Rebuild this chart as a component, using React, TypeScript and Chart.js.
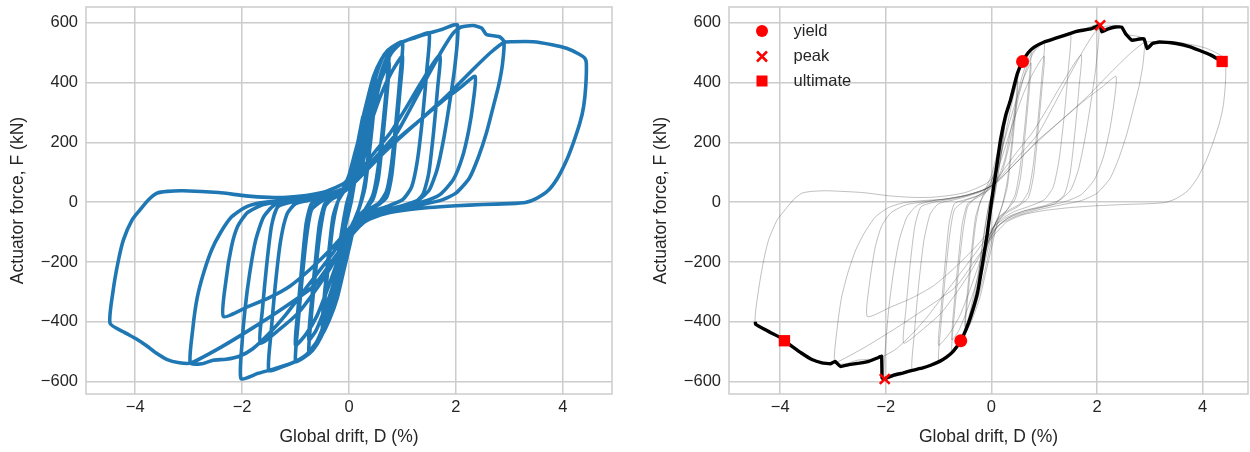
import { useEffect, useRef } from 'react';
import { Chart, registerables } from 'chart.js';

Chart.register(...registerables);

const FONT = '"Liberation Sans", Arial, Helvetica, sans-serif';
const TEXT = '#262626';
const GRID = '#cccccc';
const BLUE = '#1f77b4';
const RED = '#ff0000';

const xTicks = [-4, -2, 0, 2, 4];
const yTicks = [-600, -400, -200, 0, 200, 400, 600];
const xLabel = 'Global drift, D (%)';
const yLabel = 'Actuator force, F (kN)';
const legendLabels = ['yield', 'peak', 'ultimate'];

type P = [number, number];

// hysteresis cycles: [drift %, force kN]
const cycle01: P[] = [[0, 0], [0.1, 115], [0.2, 230], [0.26, 285], [0.22, 210], [0.13, 100], [0.05, 15], [-0.05, -60], [-0.15, -170], [-0.25, -275], [-0.21, -200], [-0.13, -100], [-0.05, -10]];
const cycle02: P[] = [[0.05, 55], [0.15, 165], [0.25, 270], [0.21, 190], [0.12, 85], [0.04, 0], [-0.06, -75], [-0.16, -180], [-0.25, -270], [-0.21, -190], [-0.12, -80], [-0.04, -5]];
const cycle03: P[] = [[0.05, 50], [0.15, 150], [0.27, 270], [0.38, 360], [0.5, 430], [0.46, 330], [0.38, 190], [0.3, 70], [0.22, 0], [0.12, -60], [0.02, -140], [-0.1, -230], [-0.22, -320], [-0.36, -390], [-0.5, -440], [-0.46, -340], [-0.38, -200], [-0.3, -75], [-0.22, -5]];
const cycle04: P[] = [[-0.12, 40], [0.0, 90], [0.12, 170], [0.26, 260], [0.38, 340], [0.5, 405], [0.46, 300], [0.38, 165], [0.3, 50], [0.2, -15], [0.08, -70], [-0.04, -140], [-0.18, -240], [-0.34, -340], [-0.5, -415], [-0.46, -310], [-0.38, -170], [-0.3, -50], [-0.2, 5]];
const cycle05: P[] = [[-0.1, 35], [0.0, 70], [0.1, 140], [0.22, 250], [0.34, 340], [0.46, 420], [0.6, 475], [0.75, 510], [0.71, 400], [0.63, 250], [0.54, 110], [0.45, 25], [0.3, -25], [0.15, -60], [0.02, -120], [-0.1, -210], [-0.22, -300], [-0.36, -380], [-0.5, -440], [-0.62, -478], [-0.75, -500], [-0.71, -390], [-0.63, -240], [-0.54, -100], [-0.45, -15]];
const cycle06: P[] = [[-0.3, 15], [-0.15, 35], [0.0, 70], [0.14, 140], [0.3, 240], [0.45, 330], [0.6, 410], [0.75, 465], [0.71, 360], [0.63, 210], [0.55, 80], [0.45, 10], [0.3, -25], [0.12, -55], [-0.02, -110], [-0.16, -190], [-0.32, -290], [-0.48, -370], [-0.62, -430], [-0.75, -460], [-0.71, -350], [-0.63, -200], [-0.55, -70], [-0.45, -5]];
const cycle07: P[] = [[-0.3, 12], [-0.12, 30], [0.02, 60], [0.15, 130], [0.28, 240], [0.4, 340], [0.52, 430], [0.65, 490], [0.8, 518], [1.0, 535], [0.96, 430], [0.88, 270], [0.79, 120], [0.7, 35], [0.55, -5], [0.35, -25], [0.15, -50], [0.0, -100], [-0.12, -180], [-0.25, -290], [-0.38, -380], [-0.52, -450], [-0.68, -495], [-0.85, -520], [-1.0, -532], [-0.96, -420], [-0.88, -260], [-0.79, -110], [-0.7, -25]];
const cycle08: P[] = [[-0.5, 5], [-0.3, 18], [-0.1, 38], [0.05, 75], [0.2, 150], [0.4, 260], [0.6, 360], [0.8, 435], [1.0, 488], [0.96, 385], [0.88, 230], [0.8, 90], [0.7, 15], [0.5, -15], [0.3, -35], [0.1, -65], [-0.05, -115], [-0.2, -190], [-0.4, -290], [-0.6, -380], [-0.8, -440], [-1.0, -478], [-0.96, -370], [-0.88, -210], [-0.8, -70], [-0.7, -5]];
const cycle09: P[] = [[-0.5, 8], [-0.25, 22], [-0.05, 40], [0.1, 70], [0.25, 140], [0.4, 270], [0.55, 400], [0.7, 480], [0.9, 525], [1.1, 542], [1.3, 555], [1.5, 565], [1.46, 450], [1.38, 290], [1.28, 140], [1.17, 50], [1.0, 8], [0.7, -15], [0.45, -30], [0.2, -55], [0.0, -95], [-0.15, -160], [-0.3, -280], [-0.45, -400], [-0.6, -465], [-0.8, -510], [-1.0, -532], [-1.25, -550], [-1.5, -562], [-1.46, -440], [-1.38, -280], [-1.28, -130], [-1.16, -40], [-1.0, -5]];
const cycle10: P[] = [[-0.7, 8], [-0.45, 20], [-0.2, 35], [0.0, 55], [0.2, 100], [0.45, 160], [0.77, 231], [1.05, 310], [1.35, 400], [1.7, 492], [1.66, 385], [1.58, 230], [1.49, 95], [1.38, 25], [1.2, -5], [0.9, -20], [0.6, -35], [0.3, -55], [0.1, -85], [-0.1, -140], [-0.35, -220], [-0.65, -300], [-0.95, -370], [-1.3, -425], [-1.66, -471], [-1.62, -360], [-1.54, -210], [-1.45, -80], [-1.33, -15]];
const cycle11: P[] = [[-1.0, 3], [-0.7, 12], [-0.4, 25], [-0.15, 40], [0.05, 60], [0.2, 100], [0.35, 200], [0.5, 340], [0.65, 440], [0.8, 500], [1.0, 535], [1.25, 550], [1.5, 565], [1.75, 578], [2.03, 592], [1.98, 453], [1.89, 341], [1.78, 220], [1.65, 110], [1.5, 40], [1.3, 8], [1.0, -12], [0.7, -25], [0.4, -45], [0.15, -75], [-0.05, -130], [-0.2, -220], [-0.35, -340], [-0.5, -430], [-0.65, -485], [-0.85, -518], [-1.1, -540], [-1.4, -557], [-1.7, -572], [-2.02, -590], [-2.0, -470], [-1.94, -350], [-1.86, -240], [-1.75, -130], [-1.6, -50], [-1.4, -10]];
const cycle12: P[] = [[-1.1, 5], [-0.8, 12], [-0.5, 22], [-0.2, 38], [0.05, 60], [0.35, 110], [0.89, 208], [1.3, 270], [1.8, 345], [2.1, 385], [2.36, 420], [2.32, 330], [2.24, 240], [2.12, 150], [1.95, 75], [1.7, 25], [1.4, 2], [1.0, -15], [0.6, -30], [0.3, -50], [0.05, -80], [-0.3, -150], [-0.7, -220], [-1.1, -280], [-1.5, -320], [-1.9, -350], [-2.35, -382], [-2.3, -260], [-2.2, -150], [-2.08, -80], [-1.9, -35], [-1.6, -8], [-1.2, 3]];
const cycle13: P[] = [[-0.8, 12], [-0.5, 22], [-0.2, 38], [0.05, 60], [0.3, 110], [0.6, 170], [0.89, 230], [1.2, 330], [1.5, 430], [1.75, 510], [1.95, 565], [2.1, 585], [2.32, 590], [2.48, 582], [2.57, 560], [2.7, 556], [2.82, 552], [2.9, 536], [2.87, 460], [2.8, 390], [2.7, 320], [2.57, 231], [2.42, 150], [2.25, 80], [2.0, 30], [1.7, 5], [1.3, -10], [0.9, -25], [0.5, -45], [0.2, -70], [-0.05, -110], [-0.3, -170], [-0.6, -240], [-0.9, -310], [-1.2, -380], [-1.5, -440], [-1.8, -490], [-2.05, -515], [-2.3, -525], [-2.54, -528], [-2.75, -540], [-2.97, -538], [-2.92, -420], [-2.84, -320], [-2.72, -237], [-2.57, -160], [-2.41, -104], [-2.2, -50], [-1.95, -18], [-1.66, -2], [-1.3, 5]];
const cycle14: P[] = [[-0.9, 10], [-0.5, 22], [-0.2, 38], [0.1, 65], [0.4, 120], [0.8, 190], [1.3, 270], [1.8, 350], [2.3, 440], [2.65, 500], [2.9, 534], [3.05, 536], [3.44, 536], [3.8, 526], [4.07, 514], [4.3, 495], [4.41, 481], [4.44, 464], [4.43, 390], [4.39, 320], [4.32, 265], [4.2, 200], [4.07, 140], [3.9, 80], [3.72, 38], [3.5, 12], [3.3, -1], [3.0, -5], [2.5, -8], [2.0, -12], [1.5, -18], [1.0, -28], [0.6, -42], [0.3, -65], [0.05, -110], [-0.25, -180], [-0.67, -282], [-1.2, -350], [-1.8, -420], [-2.4, -485], [-2.97, -538], [-3.2, -536], [-3.4, -526], [-3.6, -505], [-3.8, -478], [-4.0, -455], [-4.2, -435], [-4.47, -405], [-4.41, -293], [-4.32, -200], [-4.22, -126], [-4.06, -60], [-3.91, -26], [-3.75, 8], [-3.59, 30], [-3.4, 36], [-3.1, 38], [-2.44, 32], [-1.93, 21], [-1.5, 16], [-1.16, 16], [-0.8, 22], [-0.5, 32], [-0.3, 45], [-0.1, 62], [0.05, 85]];

// backbone (envelope) curve
const envelope: P[] = [[-4.47, -400], [-4.47, -407], [-4.3, -425], [-4.17, -437], [-4.0, -452], [-3.92, -463], [-3.75, -485], [-3.6, -504], [-3.4, -526], [-3.21, -537], [-3.05, -540], [-2.96, -532], [-2.86, -549], [-2.7, -543], [-2.5, -538], [-2.32, -532], [-2.15, -520], [-2.08, -515], [-2.07, -588], [-2.02, -590], [-1.85, -578], [-1.68, -571], [-1.5, -562], [-1.3, -554], [-1.15, -545], [-0.98, -532], [-0.85, -518], [-0.72, -498], [-0.58, -463], [-0.48, -425], [-0.4, -387], [-0.27, -308], [-0.18, -219], [-0.08, -107], [0, 0], [0.08, 95], [0.17, 206], [0.27, 290], [0.36, 340], [0.49, 429], [0.59, 470], [0.7, 500], [0.81, 518], [1.0, 535], [1.19, 546], [1.4, 558], [1.58, 569], [1.9, 580], [2.06, 591], [2.09, 569], [2.2, 578], [2.35, 585], [2.47, 585], [2.54, 563], [2.66, 541], [2.8, 545], [2.89, 546], [2.95, 513], [3.05, 530], [3.18, 535], [3.5, 530], [3.75, 520], [3.94, 507], [4.15, 492], [4.37, 470], [4.42, 466]];

const yieldPts: P[] = [[0.59, 470], [-0.58, -463]];
const peakPts: P[] = [[2.06, 591], [-2.02, -591]];
const ultimatePts: P[] = [[4.37, 470], [-3.92, -463]];

const hysteresis: P[] = [
  ...cycle01, ...cycle02, ...cycle03, ...cycle04, ...cycle05, ...cycle06, ...cycle07,
  ...cycle08, ...cycle09, ...cycle10, ...cycle11, ...cycle12, ...cycle13, ...cycle14,
];

const toXY = (pts: P[]) => pts.map(([x, y]) => ({ x, y }));
const fmt = (v: number | string) => String(v).replace('-', '\u2212');

const framePlugin = {
  id: 'frame',
  beforeDatasetsDraw(chart: any) {
    const { ctx, chartArea: a } = chart;
    ctx.save();
    ctx.strokeStyle = GRID;
    ctx.lineWidth = 1.5;
    ctx.strokeRect(a.left, a.top, a.right - a.left, a.bottom - a.top);
    ctx.restore();
  },
};

const legendPlugin = {
  id: 'innerLegend',
  afterDraw(chart: any) {
    const { ctx, chartArea: a } = chart;
    const x0 = a.left + 33;
    const ys = [24, 49.5, 74].map((d) => a.top + d);
    ctx.save();
    ctx.fillStyle = RED;
    ctx.strokeStyle = RED;
    ctx.beginPath();
    ctx.arc(x0, ys[0], 6, 0, Math.PI * 2);
    ctx.fill();
    ctx.lineWidth = 2.5;
    ctx.beginPath();
    ctx.moveTo(x0 - 5, ys[1] - 5);
    ctx.lineTo(x0 + 5, ys[1] + 5);
    ctx.moveTo(x0 + 5, ys[1] - 5);
    ctx.lineTo(x0 - 5, ys[1] + 5);
    ctx.stroke();
    ctx.fillRect(x0 - 5.5, ys[2] - 5.5, 11, 11);
    ctx.fillStyle = TEXT;
    ctx.font = `16.5px ${FONT}`;
    ctx.textBaseline = 'middle';
    ctx.textAlign = 'left';
    legendLabels.forEach((t, i) => ctx.fillText(t, a.left + 64.5, ys[i]));
    ctx.restore();
  },
};

function makeScales(xmin: number, xmax: number) {
  return {
    x: {
      type: 'linear',
      min: xmin,
      max: xmax,
      grid: { color: GRID, lineWidth: 1.5, drawTicks: false },
      border: { display: false },
      ticks: { color: TEXT, font: { family: FONT, size: 16.5 }, padding: 4, maxRotation: 0, autoSkip: false, callback: (v: number) => fmt(v) },
      title: { display: true, text: xLabel, color: TEXT, font: { family: FONT, size: 17.5 }, padding: { top: 0, bottom: 4.5 } },
      afterBuildTicks: (s: any) => { s.ticks = xTicks.map((value) => ({ value })); },
      afterFit: (s: any) => { s.height = 58; s.paddingLeft = 0; s.paddingRight = 0; },
    },
    y: {
      type: 'linear',
      min: -641,
      max: 652,
      grid: { color: GRID, lineWidth: 1.5, drawTicks: false },
      border: { display: false },
      ticks: { color: TEXT, font: { family: FONT, size: 16.5 }, padding: 8, autoSkip: false, callback: (v: number) => fmt(v) },
      title: { display: true, text: yLabel, color: TEXT, font: { family: FONT, size: 17.5 }, padding: { top: 7.5, bottom: 0 } },
      afterBuildTicks: (s: any) => { s.ticks = yTicks.map((value) => ({ value })); },
      afterFit: (s: any) => { s.width = 86; s.paddingTop = 0; s.paddingBottom = 0; },
    },
  };
}

function HystChart({ variant }: { variant: 'left' | 'right' }) {
  const ref = useRef<HTMLCanvasElement | null>(null);
  const width = variant === 'left' ? 625 : 607;
  useEffect(() => {
    if (!ref.current) return;
    const isLeft = variant === 'left';
    const datasets: any[] = isLeft
      ? [
          { data: toXY(hysteresis), borderColor: BLUE, borderWidth: 3.6, pointRadius: 0, tension: 0.2, fill: false },
        ]
      : [
          { data: toXY(yieldPts), showLine: false, pointStyle: 'circle', pointRadius: 6.5, backgroundColor: RED, borderColor: RED, borderWidth: 0, order: 0 },
          { data: toXY(peakPts), showLine: false, pointStyle: 'crossRot', pointRadius: 7, backgroundColor: RED, borderColor: RED, borderWidth: 2.5, order: 0 },
          { data: toXY(ultimatePts), showLine: false, pointStyle: 'rect', pointRadius: 8, backgroundColor: RED, borderColor: RED, borderWidth: 0, order: 0 },
          { data: toXY(envelope), borderColor: '#000000', borderWidth: 3.4, pointRadius: 0, tension: 0.1, fill: false, order: 1 },
          { data: toXY(hysteresis), borderColor: 'rgba(60,60,60,0.55)', borderWidth: 0.6, pointRadius: 0, tension: 0.2, fill: false, order: 2 },
        ];
    const chart = new Chart(ref.current, {
      type: 'line',
      data: { datasets },
      options: {
        animation: false,
        responsive: false,
        devicePixelRatio: 1,
        layout: { autoPadding: false, padding: { left: 0, right: isLeft ? 13 : 2, top: 7, bottom: 0 } },
        plugins: { legend: { display: false }, tooltip: { enabled: false } },
        scales: makeScales(isLeft ? -4.92 : -4.97, isLeft ? 4.92 : 4.86) as any,
      },
      plugins: isLeft ? [framePlugin] : [framePlugin, legendPlugin],
    } as any);
    return () => chart.destroy();
  }, [variant]);
  return <canvas ref={ref} width={width} height={452} style={{ display: 'block', width, height: 452 }} />;
}

export default function App() {
  return (
    <div style={{ position: 'absolute', left: 0, top: 0, width: 1250, height: 452, background: '#ffffff' }}>
      <div style={{ position: 'absolute', left: 0, top: 0 }}>
        <HystChart variant="left" />
      </div>
      <div style={{ position: 'absolute', left: 643, top: 0 }}>
        <HystChart variant="right" />
      </div>
    </div>
  );
}
